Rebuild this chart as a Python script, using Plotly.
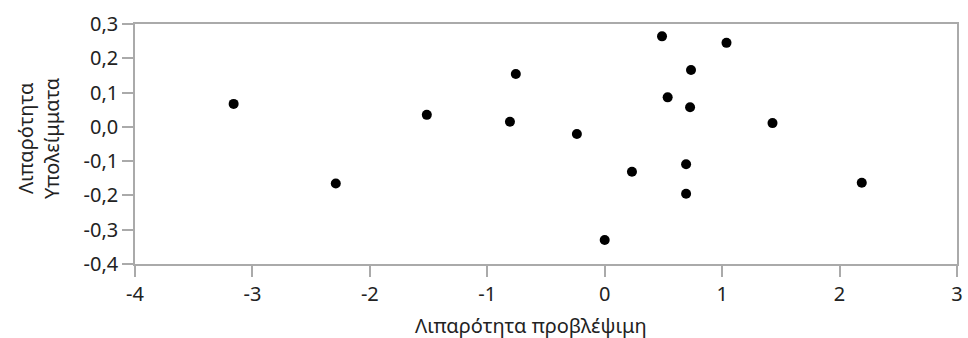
import plotly.graph_objects as go

# Predicted fat content vs. residuals
predicted = [-3.16, -2.29, -1.515, -0.757, -0.807, -0.237, 0.0, 0.232, 0.488,
             0.536, 0.693, 0.693, 0.735, 0.727, 1.037, 1.429, 2.189]
residuals = [0.067, -0.165, 0.035, 0.154, 0.015, -0.021, -0.330, -0.131, 0.264,
             0.086, -0.109, -0.195, 0.166, 0.057, 0.245, 0.011, -0.163]

x_ticks = [-4, -3, -2, -1, 0, 1, 2, 3]
x_labels = ["-4", "-3", "-2", "-1", "0", "1", "2", "3"]
y_ticks = [-0.4, -0.3, -0.2, -0.1, 0.0, 0.1, 0.2, 0.3]
y_labels = ["-0,4", "-0,3", "-0,2", "-0,1", "0,0", "0,1", "0,2", "0,3"]

x_title = "Λιπαρότητα προβλέψιμη"
y_title = "Λιπαρότητα<br>Υπολείμματα"

font_family = "Noto Sans, Open Sans, DejaVu Sans, sans-serif"
axis_color = "#aaaaaa"
text_color = "#222222"

fig = go.Figure(
    go.Scatter(
        x=predicted,
        y=residuals,
        mode="markers",
        marker=dict(color="black", size=10),
        hoverinfo="x+y",
    )
)

common_axis = dict(
    showgrid=False,
    zeroline=False,
    showline=True,
    linecolor=axis_color,
    linewidth=1.5,
    mirror=True,
    ticks="outside",
    ticklen=11,
    tickwidth=1.5,
    tickcolor=axis_color,
    tickfont=dict(family=font_family, size=20, color=text_color),
)

fig.update_xaxes(**common_axis, range=[-4, 3], tickvals=x_ticks, ticktext=x_labels)
fig.update_yaxes(**common_axis, range=[-0.4, 0.3], tickvals=y_ticks, ticktext=y_labels)

title_font = dict(family=font_family, size=20, color=text_color)
fig.add_annotation(
    text=x_title, xref="paper", yref="paper", x=0.482, y=-0.258,
    xanchor="center", yanchor="middle", showarrow=False, font=title_font,
)
fig.add_annotation(
    text=y_title, xref="paper", yref="paper", x=-0.118, y=0.525,
    xanchor="center", yanchor="middle", textangle=-90, showarrow=False,
    font=title_font,
)

fig.update_layout(
    width=968,
    height=338,
    margin=dict(l=135, r=5, t=24, b=74),
    paper_bgcolor="white",
    plot_bgcolor="white",
    showlegend=False,
)

fig.write_html("out.html")
